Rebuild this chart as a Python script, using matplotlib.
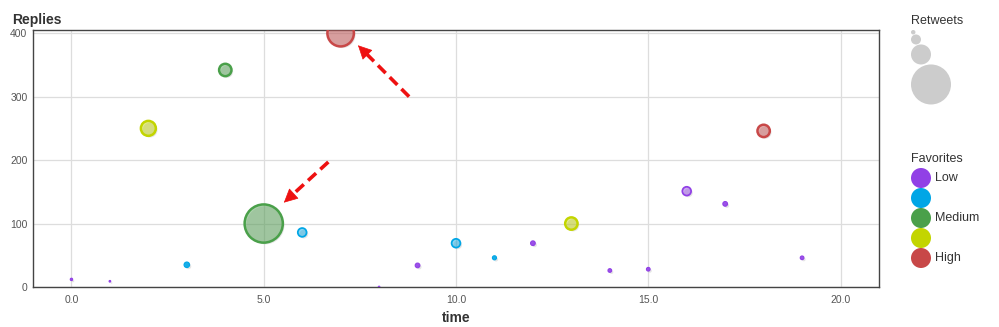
import matplotlib
matplotlib.use("Agg")
import matplotlib.pyplot as plt
from matplotlib.patches import Circle
from matplotlib.colors import to_rgba
import matplotlib.patheffects as pe
import numpy as np

plt.rcParams['font.family'] = ['Liberation Sans', 'DejaVu Sans']

# ---- data ----
time = [0, 1, 2, 3, 4, 5, 6, 7, 8, 9, 10, 11, 12, 13, 14, 15, 16, 17, 18, 19]
replies = [12, 9, 250, 35, 342, 100, 86, 400, 0, 34, 69, 46, 69, 100, 26, 28, 151, 131, 246, 46]
retweets = [0.5, 0.3, 14, 2, 10, 80, 5, 40, 0.3, 1.5, 5, 1.2, 1.5, 10, 1, 1, 5, 1.5, 10, 1]
favorites = [1, 1, 4, 2, 3, 3, 2, 5, 1, 1, 2, 2, 1, 4, 1, 1, 1, 1, 5, 1]  # level 1..5

fav_colors = ['#9140e6', '#00a6e6', '#4aa04a', '#c3d500', '#c84848']
fav_labels = ['Low', '', 'Medium', '', 'High']
retweet_legend_values = [1, 5, 20, 80]

xticks = [0, 5, 10, 15, 20]
xticklabels = ['0.0', '5.0', '10.0', '15.0', '20.0']
yticks = [0, 100, 200, 300, 400]

arrows = [((8.78, 300), (7.40, 384)), ((6.68, 197), (5.47, 130))]

# radius in pixels = sqrt(5 * retweets)
def radius_px(v):
    return np.sqrt(5.0 * v)

W, H = 999, 327
fig = plt.figure(figsize=(W / 100, H / 100), dpi=100)
L, R, T, B = 33, 879, 30, 287
ax = fig.add_axes([L / W, 1 - B / H, (R - L) / W, (B - T) / H])
ax.set_xlim(-1, 21)
ax.set_ylim(0, 405)

ax.set_xticks(xticks)
ax.set_xticklabels(xticklabels)
ax.set_yticks(yticks)
ax.tick_params(length=0, labelsize=7.5, colors='#555555')
ax.tick_params(axis='x', pad=6)
ax.tick_params(axis='y', pad=4)
ax.grid(True, color='#dddddd', linewidth=0.9)
ax.set_axisbelow(True)
for s in ax.spines.values():
    s.set_color('#444444')
    s.set_linewidth(1.0)

cols = [fav_colors[f - 1] for f in favorites]
rad = np.array([radius_px(v) for v in retweets])
lw = np.clip(rad * 0.25, 0.8, 1.8)
sizes = (2 * (rad - lw * 0.5) * 0.72) ** 2
faces = [to_rgba(c, 0.45 if r >= 4.5 else 0.9) for c, r in zip(cols, rad)]
order = np.argsort(-rad)
ax.scatter(np.array(time)[order], np.array(replies)[order], s=sizes[order],
           facecolors=[faces[i] for i in order], edgecolors=[cols[i] for i in order],
           linewidths=lw[order] * 0.72 * 1.4, zorder=3, clip_on=True,
           path_effects=[pe.SimplePatchShadow(offset=(1.2, -1.2), shadow_rgbFace='#999999', alpha=0.25),
                         pe.Normal()])

for (tail, head) in arrows:
    tx, ty = tail
    hx, hy = head
    ax.plot([tx, hx + (tx - hx) * 0.12], [ty, hy + (ty - hy) * 0.12], color='#ee1111',
            linewidth=2.6, linestyle=(0, (3, 1.6)), zorder=4, solid_capstyle='butt')
    ax.annotate('', xy=(hx, hy), xytext=(hx + (tx - hx) * 0.2, hy + (ty - hy) * 0.2),
                arrowprops=dict(arrowstyle='-|>,head_length=0.9,head_width=0.45',
                                color='#ee1111', lw=0.5), zorder=5)

fig.text(12 / W, 1 - 20 / H, 'Replies', fontsize=10, fontweight='bold', color='#333333',
         ha='left', va='center')
fig.text((L + R) / 2 / W, 1 - 318 / H, 'time', fontsize=10, fontweight='bold', color='#333333',
         ha='center', va='center')

# ---- legends ----
lax = fig.add_axes([0, 0, 1, 1])
lax.set_xlim(0, W)
lax.set_ylim(H, 0)
lax.axis('off')
lax.text(911, 21, 'Retweets', fontsize=9, color='#333333', ha='left', va='center')
y_top = 30
for v in retweet_legend_values:
    r = radius_px(v)
    lax.add_patch(Circle((911 + r, y_top + r), r, facecolor='#cccccc', edgecolor='none'))
    y_top += 2 * r
lax.text(911, 159, 'Favorites', fontsize=9, color='#333333', ha='left', va='center')
for i, (c, lab) in enumerate(zip(fav_colors, fav_labels)):
    cy = 178 + 20 * i
    lax.add_patch(Circle((921, cy), 10, facecolor=c, edgecolor='none'))
    if lab:
        lax.text(935, cy, lab, fontsize=9, color='#333333', ha='left', va='center')

fig.savefig('out.png', dpi=100)
